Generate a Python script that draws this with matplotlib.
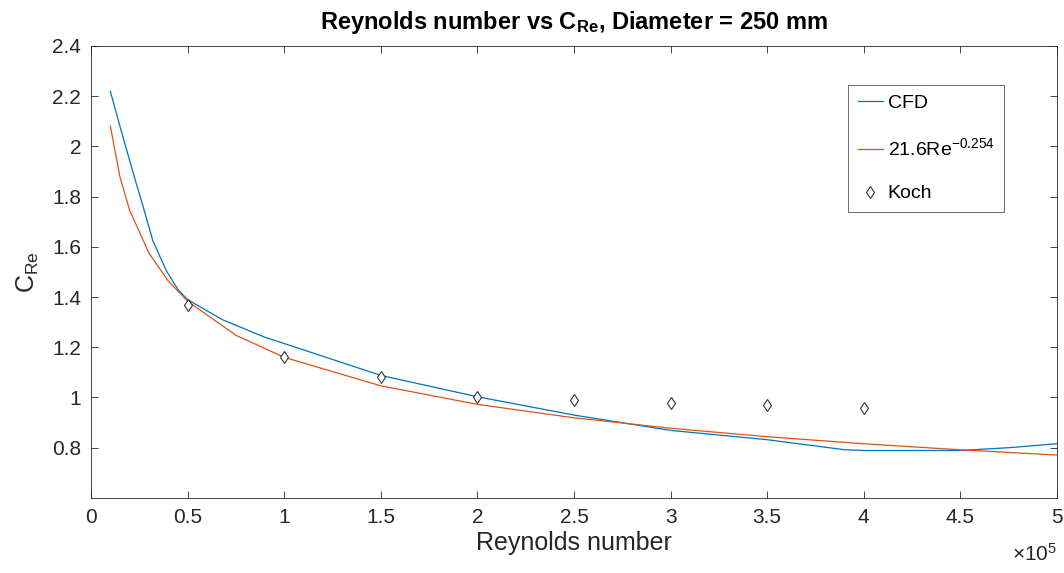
import numpy as np
import matplotlib
matplotlib.use('Agg')
import matplotlib.pyplot as plt
from matplotlib.ticker import FuncFormatter

plt.rcParams['font.family'] = ['Liberation Sans', 'DejaVu Sans']
plt.rcParams['mathtext.fontset'] = 'custom'
plt.rcParams['mathtext.rm'] = 'Liberation Sans'
plt.rcParams['mathtext.it'] = 'Liberation Sans'
plt.rcParams['mathtext.bf'] = 'Liberation Sans:bold'

# CFD results, diameter 250 mm
re_cfd = [1.0e4, 1.5e4, 2.2e4, 2.7e4, 3.2e4, 3.9e4, 4.5e4, 5.0e4, 6.8e4,
          9.0e4, 1.0e5, 1.5e5, 2.0e5, 2.5e5, 3.0e5, 3.5e5, 3.9e5, 4.0e5,
          4.5e5, 4.75e5, 5.0e5]
c_cfd = [2.22, 2.08, 1.89, 1.76, 1.625, 1.505, 1.43, 1.39, 1.31,
         1.24, 1.215, 1.088, 1.003, 0.93, 0.869, 0.832, 0.792, 0.789,
         0.789, 0.80, 0.816]

# power law fit C = a * Re^b
fit_a = 21.6
fit_b = -0.254
re_fit = [1.0e4, 1.5e4, 2.0e4, 3.0e4, 4.0e4, 5.0e4, 7.5e4, 1.0e5, 1.5e5,
          2.0e5, 2.5e5, 3.0e5, 3.5e5, 4.0e5, 4.5e5, 5.0e5]

# Koch data
re_koch = [0.5e5, 1.0e5, 1.5e5, 2.0e5, 2.5e5, 3.0e5, 3.5e5, 4.0e5]
c_koch = [1.37, 1.16, 1.08, 1.00, 0.99, 0.98, 0.97, 0.96]

x_ticks = [0, 0.5e5, 1e5, 1.5e5, 2e5, 2.5e5, 3e5, 3.5e5, 4e5, 4.5e5, 5e5]
y_ticks = [0.8, 1.0, 1.2, 1.4, 1.6, 1.8, 2.0, 2.2, 2.4]

fig = plt.figure(figsize=(10.64, 5.73), dpi=100)
ax = fig.add_axes([0.0855, 0.131, 0.9079, 0.7888])

c_fit = fit_a * np.array(re_fit) ** fit_b
ax.plot(re_cfd, c_cfd, color='#0072BD', lw=0.9, label='CFD')
ax.plot(re_fit, c_fit, color='#D95319', lw=0.9,
        label=r'%.1fRe$^{%.3f}$' % (fit_a, fit_b))
ax.plot(re_koch, c_koch, ls='none', marker='d', ms=6, mfc='white',
        mec='#333333', mew=0.8, label='Koch')

ax.set_xlim(0, 5e5)
ax.set_ylim(0.6, 2.4)
ax.set_xticks(x_ticks)
ax.set_yticks(y_ticks)
ax.xaxis.set_major_formatter(FuncFormatter(lambda v, p: '%g' % (v / 1e5)))
ax.yaxis.set_major_formatter(FuncFormatter(lambda v, p: '%g' % v))
ax.tick_params(direction='in', top=True, right=True, length=5, width=0.6,
               colors='#262626', labelsize=15, pad=7)
for s in ax.spines.values():
    s.set_color('#262626')
    s.set_linewidth(0.6)

ax.text(1.0, -0.1, r'$\times$10$^5$', transform=ax.transAxes,
        ha='right', va='top', fontsize=15, color='#262626')
ax.set_xlabel('Reynolds number', fontsize=18, color='#262626', labelpad=3)
ax.set_ylabel(r'C$_{\mathrm{Re}}$', fontsize=18, color='#262626', labelpad=8)
ax.set_title(r'Reynolds number vs C$_{\mathbf{Re}}$, Diameter = 250 mm',
             fontsize=17, fontweight='bold', pad=12)

leg = ax.legend(loc='upper left', bbox_to_anchor=(0.7836, 0.9137), fontsize=14,
                frameon=True, fancybox=False, edgecolor='#262626',
                labelspacing=1.3, handlelength=1.3, handletextpad=0.25,
                borderpad=0.5, borderaxespad=0)
leg.get_frame().set_linewidth(0.6)

fig.savefig('out.png', dpi=100)
